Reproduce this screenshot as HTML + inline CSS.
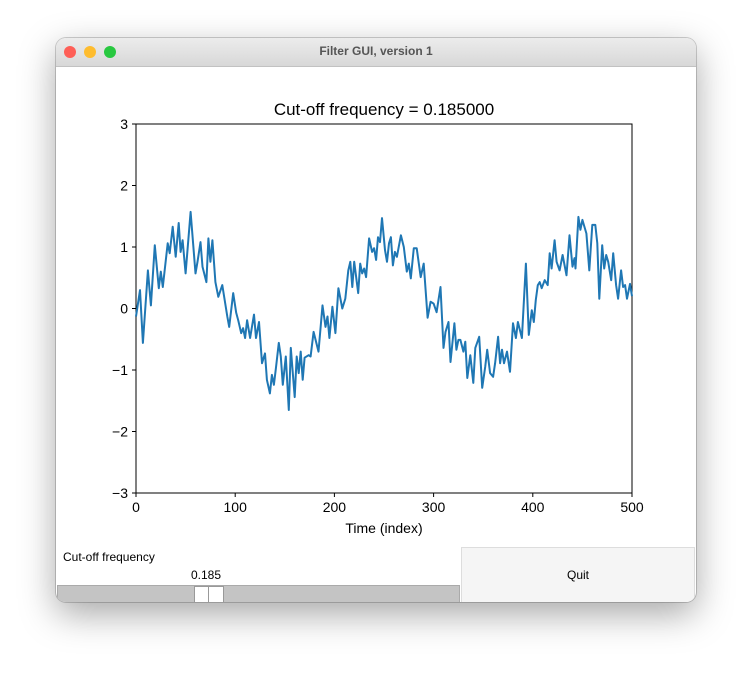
<!DOCTYPE html>
<html><head><meta charset="utf-8"><style>
body{margin:0;width:752px;height:677px;background:#fff;position:relative;font-family:"Liberation Sans",sans-serif;overflow:hidden}
#win{position:absolute;left:56px;top:38px;width:640px;height:564px;border-radius:10px;background:#fff;box-shadow:0 12px 36px rgba(0,0,0,0.35),0 0 0 1px rgba(0,0,0,0.18);overflow:hidden}
#bar{position:absolute;left:0;top:0;width:640px;height:28px;background:linear-gradient(#ececec,#d8d8d8);border-bottom:1px solid #c2c2c2;text-align:center;font-size:12px;font-weight:bold;color:#555;line-height:27px}
.dot{position:absolute;top:8px;width:12px;height:12px;border-radius:50%}
</style></head><body>
<div id="win">
<div id="bar">Filter GUI, version 1
<div class="dot" style="left:8px;background:#fe5f57"></div>
<div class="dot" style="left:28px;background:#febc2e"></div>
<div class="dot" style="left:48px;background:#28c840"></div>
</div>
<div style="position:absolute;left:7px;top:512px;font-size:12px;color:#000">Cut-off frequency</div>
<div style="position:absolute;left:135px;top:530px;font-size:12px;color:#000">0.185</div>
<div style="position:absolute;left:1px;top:547px;width:401px;height:16px;background:#c4c4c4;border:1px solid #aaa">
<div style="position:absolute;left:136px;top:0;width:28px;height:15px;background:#fff;border:1px solid #999"><div style="position:absolute;left:13px;top:0;width:1px;height:15px;background:#999"></div></div>
</div>
<div style="position:absolute;left:405px;top:509px;width:232px;height:54px;background:#f5f5f5;border:1px solid #ddd;text-align:center;line-height:54px;font-size:12px">Quit</div>
</div>
<svg id="chart" width="752" height="677" style="position:absolute;left:0;top:0"></svg>
<script>
const xIdx=[0,4,7,12,15,19,23,25,27,32,34,37,40,43,45,47,50,55,60,62,65,67,71,73,75,77,80,83,87,92,94,98,101,103,106,108,110,112,115,119,121,124,127,130,132,135,137,139,141,144,146,148,151,154,156,160,162,164,166,168,170,174,176,179,184,188,191,193,195,198,201,204,208,211,214,216,218,220,224,226,228,230,232,235,238,240,242,244,246,248,251,253,255,257,259,261,263,267,270,273,275,277,280,283,287,290,294,297,300,303,307,310,312,315,317,321,323,325,327,330,332,334,337,340,342,346,349,352,354,357,360,362,365,367,369,371,374,377,380,383,385,387,389,393,396,399,401,403,405,407,409,412,415,417,419,422,424,427,430,434,437,440,442,443,446,448,450,454,457,460,463,465,467,470,472,474,476,479,481,484,486,489,491,493,495,498,500];
const yVal=[-0.13,0.3,-0.56,0.62,0.05,1.03,0.33,0.6,0.35,1.06,0.9,1.33,0.84,1.39,0.92,1.11,0.57,1.57,0.57,0.76,1.08,0.68,0.43,1.14,0.76,1.11,0.43,0.19,0.38,-0.13,-0.3,0.25,-0.07,-0.19,-0.4,-0.32,-0.48,-0.19,-0.48,-0.1,-0.48,-0.22,-0.89,-0.73,-1.16,-1.38,-1.08,-1.24,-0.97,-0.56,-0.78,-1.24,-0.78,-1.65,-0.64,-1.44,-0.78,-1.05,-0.7,-1.16,-0.8,-0.76,-0.78,-0.38,-0.7,0.05,-0.3,-0.13,-0.48,0.03,-0.4,0.33,0,0.16,0.62,0.76,0.35,0.76,0.25,0.73,0.57,0.65,0.51,1.14,0.92,0.98,0.79,1.16,1.08,1.47,0.95,0.76,1.06,1.16,0.7,0.92,0.84,1.19,1.0,0.6,0.73,0.49,0.98,0.98,0.51,0.73,-0.15,0.11,0.08,-0.06,0.35,-0.64,-0.38,-0.22,-0.87,-0.24,-0.67,-0.51,-0.51,-0.7,-0.54,-1.13,-0.76,-1.21,-0.64,-0.46,-1.29,-0.95,-0.67,-1.05,-1.11,-0.89,-0.46,-0.89,-0.67,-0.89,-0.7,-1.03,-0.24,-0.48,-0.22,-0.35,-0.48,0.73,-0.43,-0.03,-0.22,0.14,0.38,0.43,0.33,0.46,0.38,0.9,0.65,1.11,0.76,0.62,0.87,0.54,1.19,0.68,0.82,0.65,1.49,1.28,1.44,1.22,0.62,1.36,1.36,1.06,0.16,1.03,0.65,0.87,0.76,0.46,0.9,0.38,0.16,0.62,0.35,0.38,0.16,0.4,0.2];
const xTicks=[0,100,200,300,400,500];
const yTicks=[-3,-2,-1,0,1,2,3];
const L=136,R=632,T=124,B=493;
const FONT='Liberation Sans, sans-serif';
const sx=v=>L+(v-0)/(500-0)*(R-L);
const sy=v=>B-(v+3)/6*(B-T);
const svg=document.getElementById('chart');
const NS='http://www.w3.org/2000/svg';
function mk(t,a){const e=document.createElementNS(NS,t);for(const k in a)e.setAttribute(k,a[k]);svg.appendChild(e);return e;}
let e=mk('rect',{x:L,y:T,width:R-L,height:B-T,fill:'none',stroke:'#000','stroke-width':1});


let d='';xIdx.forEach((x,i)=>{d+=(i?'L':'M')+sx(x).toFixed(1)+' '+sy(yVal[i]).toFixed(1);});
e=mk('path',{d:d,fill:'none',stroke:'#1f77b4','stroke-width':2,'stroke-linejoin':'round'});


xTicks.forEach(t=>{const x=sx(t);
let l=mk('line',{x1:x,x2:x,y1:B,y2:B+4,stroke:'#000'});


let tx=mk('text',{x:x,y:B+19,'text-anchor':'middle','font-size':14,'font-family':FONT});tx.textContent=t;

});
yTicks.forEach(t=>{const y=sy(t);
let l=mk('line',{x1:L-4,x2:L,y1:y,y2:y,stroke:'#000'});


let tx=mk('text',{x:L-8,y:y+5,'text-anchor':'end','font-size':14,'font-family':FONT});tx.textContent=t<0?'\u2212'+(-t):t;

});
e=mk('text',{x:(L+R)/2,y:533,'text-anchor':'middle','font-size':14,'font-family':FONT});e.textContent='Time (index)';


e=mk('text',{x:(L+R)/2,y:115,'text-anchor':'middle','font-size':17,'font-family':FONT});e.textContent='Cut-off frequency = 0.185000';


</script>
</body></html>
